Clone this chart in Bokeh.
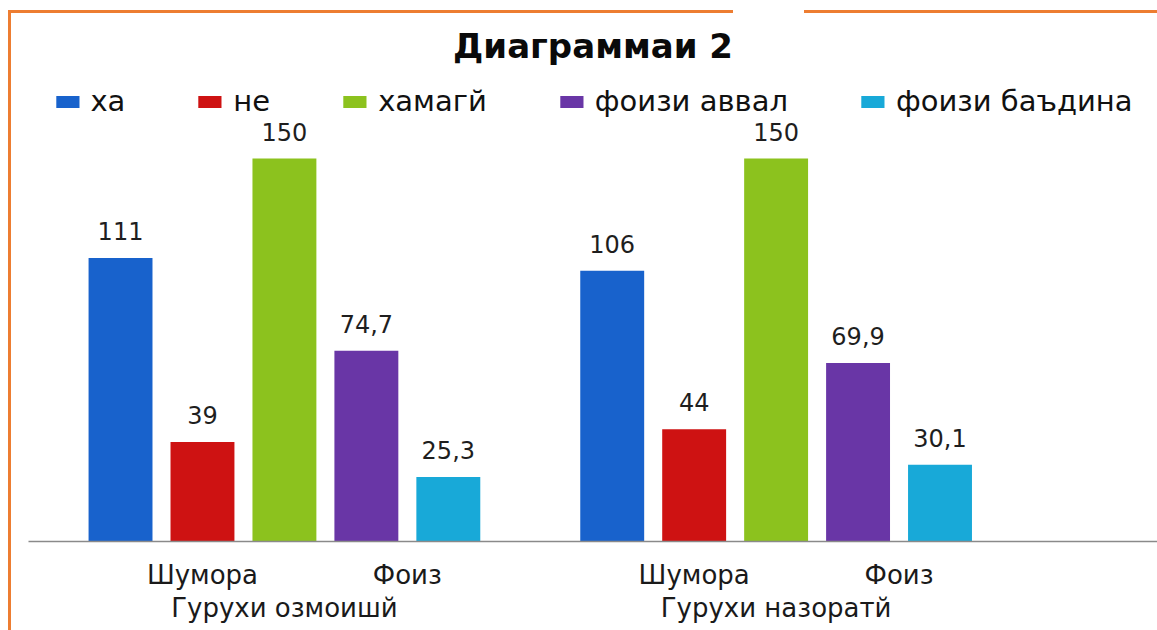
from bokeh.plotting import figure
from bokeh.models import (Range1d, LinearAxis, FixedTicker, Legend, LegendItem,
                          ColumnDataSource, InlineStyleSheet)
from bokeh.core.properties import value
from bokeh.embed import file_html
from bokeh.resources import INLINE

# ---- data ----
groups = ["Гурухи озмоишй", "Гурухи назоратй"]
subgroups = ["Шумора", "Фоиз"]
series = ["ха", "не", "хамагй", "фоизи аввал", "фоизи баъдина"]
series_subgroup = ["Шумора", "Шумора", "Шумора", "Фоиз", "Фоиз"]
ha = [111, 106]
ne = [39, 44]
hamagi = [150, 150]
foizi_avval = [74.7, 69.9]
foizi_badina = [25.3, 30.1]
values = [ha, ne, hamagi, foizi_avval, foizi_badina]
colors = ["#1862CC", "#CE1212", "#8CC21E", "#6936A6", "#18A9D8"]
title_text = "Диаграммаи 2"

FONT = "DejaVu Sans"
step = len(series) + 1  # one empty slot between the groups


def xpos(g, s):
    return g * step + s


def fmt(v):
    return str(int(v)) if float(v).is_integer() else f"{v:.1f}".replace(".", ",")


p = figure(width=1157, height=630, output_backend="svg", toolbar_location=None,
           x_range=Range1d(-1.123, 12.654), y_range=Range1d(0, 183.7),
           x_axis_type=None, y_axis_type=None,
           min_border_left=28, min_border_right=0, min_border_top=72, min_border_bottom=89)
p.outline_line_color = None
p.background_fill_color = "white"
p.border_fill_color = "white"

p.title.text = title_text
p.title.text_font = FONT
p.title.text_font_size = "34px"
p.title.text_font_style = "bold"
p.title.text_color = "#0a0a0a"
p.title.align = "center"
p.title.offset = 8
p.title.standoff = 14

items = []
for s, name in enumerate(series):
    src = ColumnDataSource(dict(
        x=[xpos(g, s) for g in range(len(groups))],
        top=values[s],
        label=[fmt(v) for v in values[s]],
    ))
    r = p.vbar(x="x", top="top", bottom=0, width=0.78, source=src,
               fill_color=colors[s], line_color=None)
    p.text(x="x", y="top", text="label", source=src, text_align="center",
           text_baseline="alphabetic", y_offset=-27, text_font=value(FONT),
           text_font_size="24px", text_color="#1e1e1e")
    items.append(LegendItem(label=name, renderers=[r]))

# subgroup axis (closest to the bars)
sub_ticks, sub_over = [], {}
for g in range(len(groups)):
    for sg in subgroups:
        idx = [xpos(g, s) for s in range(len(series)) if series_subgroup[s] == sg]
        t = sum(idx) / len(idx)
        sub_ticks.append(t)
        sub_over[float(t)] = sg
        sub_over[str(t)] = sg
        sub_over[f"{t:g}"] = sg

ax1 = LinearAxis(ticker=FixedTicker(ticks=sub_ticks, minor_ticks=[]),
                 major_label_overrides=sub_over)
ax1.axis_line_color = "#8a8a8a"
ax1.axis_line_width = 1.5
ax1.major_tick_line_color = None
ax1.minor_tick_line_color = None
ax1.major_label_standoff = 12
ax1.major_label_text_font = FONT
ax1.major_label_text_font_size = "26px"
ax1.major_label_text_color = "#1a1a1a"
p.add_layout(ax1, "below")

grp_ticks, grp_over = [], {}
for g, gname in enumerate(groups):
    idx = [xpos(g, s) for s in range(len(series))]
    t = sum(idx) / len(idx)
    grp_ticks.append(t)
    grp_over[float(t)] = gname
    grp_over[str(t)] = gname
    grp_over[f"{t:g}"] = gname

ax2 = LinearAxis(ticker=FixedTicker(ticks=grp_ticks, minor_ticks=[]),
                 major_label_overrides=grp_over)
ax2.axis_line_color = None
ax2.major_tick_line_color = None
ax2.minor_tick_line_color = None
ax2.major_label_standoff = -6
ax2.major_label_text_font = FONT
ax2.major_label_text_font_size = "26px"
ax2.major_label_text_color = "#1a1a1a"
p.add_layout(ax2, "below")

legend = Legend(items=items, orientation="horizontal", location="top_center",
                glyph_width=29, glyph_height=15, label_standoff=9, spacing=70,
                padding=0, margin=12, border_line_color=None,
                background_fill_alpha=0, label_text_font=FONT,
                label_text_font_size="29px", label_text_color="#111111")
p.add_layout(legend)

# orange frame of the picture (left and top edges; the top edge is broken above the "2")
border_css = """
:host { position: relative; }
:host::before {
  content: ""; position: absolute; left: 8px; top: 10px;
  width: 725px; height: calc(100% - 10px);
  border-left: 3px solid #ED7D31; border-top: 3px solid #ED7D31;
  box-sizing: border-box; pointer-events: none; z-index: 100;
}
:host::after {
  content: ""; position: absolute; left: 804px; top: 10px; right: 0px; height: 3px;
  background: #ED7D31; pointer-events: none; z-index: 100;
}
"""
p.stylesheets = [InlineStyleSheet(css=border_css)]

open("out.html", "w").write(file_html(p, INLINE))
